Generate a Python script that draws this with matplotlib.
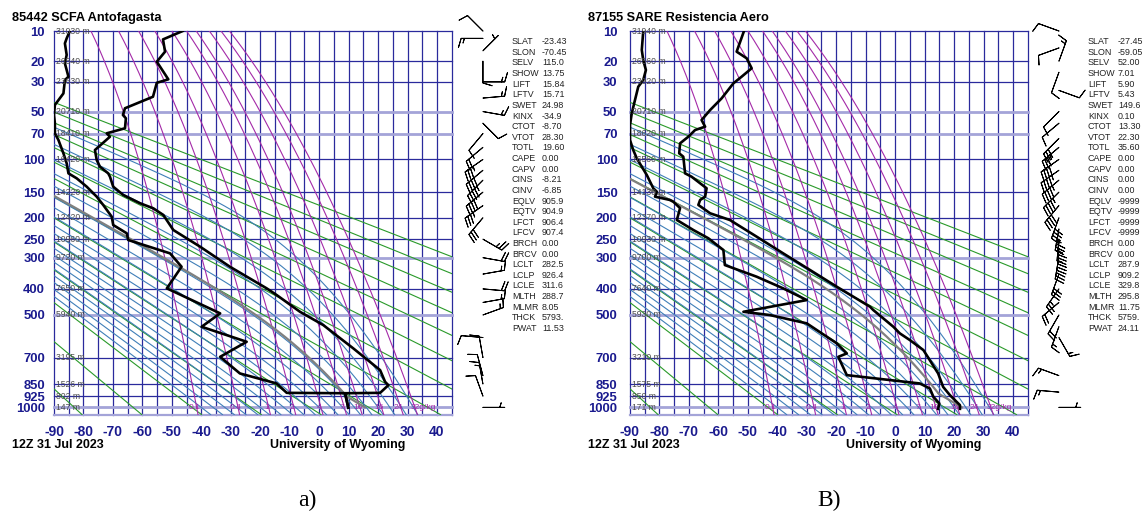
import numpy as np
import matplotlib.pyplot as plt

plt.rcParams['font.family'] = ['Liberation Sans', 'DejaVu Sans']

W, H = 1148, 518
KAPPA = 0.2857

# pressure levels drawn on the diagram
levels = [10, 20, 30, 50, 70, 100, 150, 200, 250, 300, 400, 500, 700, 850, 925, 1000]
faint_levels = [50, 70, 300, 500, 1000]
temp_ticks = list(range(-90, 41, 10))
mix_ratios = [0.1, 0.4, 1, 2, 4, 7, 10, 16, 24, 32]
mix_labels = ["0.1", "0.4", "1", "2", "4", "7", "10", "16", "24", "32g/kg"]
dry_thetas = list(range(190, 451, 20))
moist_tw = list(range(-40, 33, 4))

index_names = ["SLAT", "SLON", "SELV", "SHOW", "LIFT", "LFTV", "SWET", "KINX", "CTOT",
               "VTOT", "TOTL", "CAPE", "CAPV", "CINS", "CINV", "EQLV", "EQTV", "LFCT",
               "LFCV", "BRCH", "BRCV", "LCLT", "LCLP", "LCLE", "MLTH", "MLMR", "THCK", "PWAT"]

# ---- station a) Antofagasta
a_title = "85442 SCFA Antofagasta"
a_temp_p = [10, 12.3, 16.3, 20.2, 28.6, 30.5, 39.1, 47.4, 52.8, 55.6, 64.7, 69.7, 73.2, 88.2,
            100.8, 109.9, 119.5, 124.6, 140.6, 155, 170.4, 180.3, 194, 227.6, 269.6, 326.9,
            398.1, 422.2, 486.9, 543.1, 596.4, 652.9, 768.6, 836.9, 857, 904.6, 907, 1002]
a_temp_t = [-46.3, -53.0, -52.3, -55.1, -51.2, -55.1, -56.4, -65.9, -66.6, -65.6, -65.9, -72.1,
            -71.0, -76.1, -75.5, -74.4, -71.6, -71.0, -69.9, -66.5, -60.8, -56.3, -52.9, -49.5,
            -40.4, -30.3, -17.8, -14.4, -6.5, 1.4, 6.5, 11.6, 20.7, 22.4, 23.5, 20.7, 8.8, 9.9]
a_dwpt_p = [10, 12.0, 13.5, 17.5, 20.9, 27.2, 29.0, 36.9, 44.9, 52.8, 60.0, 69.7, 76.7, 92.2,
            105.2, 119.5, 127.1, 140.6, 158.1, 173.7, 197.7, 216, 235.5, 252.2, 287.8, 326.9,
            398.1, 493.4, 550.7, 620.3, 696.2, 787.5, 846.6, 904.6, 907, 1002]
a_dwpt_t = [-84.6, -85.7, -86.3, -85.7, -86.3, -85.1, -86.3, -86.8, -89.7, -90.0, -89.7, -89.7,
            -88.5, -86.8, -85.7, -85.1, -82.3, -78.9, -75.5, -73.3, -70.4, -69.9, -65.3, -64.8,
            -50.6, -46.7, -51.7, -33.6, -39.9, -24.6, -33.6, -26.9, -14.4, -11.0, 8.8, 9.9]
a_hght = ["31030", "26540", "23630", "20710", "18410", "16420", "14220", "12420", "10960",
          "9720", "7650", "5940", "3195", "1526", "802", "147"]
a_wind_p = [10, 12, 16, 20, 30, 40, 50, 60, 70, 85, 100, 115, 130, 150, 175, 200, 250, 300,
            350, 400, 450, 500, 600, 700, 800, 850, 925, 1000]
a_wind_dir = [315, 270, 45, 180, 90, 85, 100, 135, 220, 230, 235, 230, 225, 230, 235, 220, 120,
              100, 80, 95, 80, 70, 275, 350, 345, 350, 340, 90]
a_wind_spd = [10, 15, 5, 10, 15, 15, 15, 10, 10, 20, 35, 40, 45, 40, 35, 30, 25, 20, 15, 20,
              15, 15, 10, 10, 10, 15, 10, 5]
a_index = ["-23.43", "-70.45", "115.0", "13.75", "15.84", "15.71", "24.98", "-34.9", "-8.70",
           "28.30", "19.60", "0.00", "0.00", "-8.21", "-6.85", "905.9", "904.9", "906.4",
           "907.4", "0.00", "0.00", "282.5", "926.4", "311.6", "288.7", "8.05", "5793.", "11.53"]
a_mlth, a_lclt, a_lclp = 288.7, 282.5, 926.4

# ---- station B) Resistencia
b_title = "87155 SARE Resistencia Aero"
b_temp_p = [10, 16.3, 18.8, 23.1, 27.2, 30.8, 40.2, 48.8, 57.1, 63.2, 66.4, 73.2, 80.4, 92.2,
            96.5, 119.5, 124.6, 143.3, 158.1, 164.2, 173.7, 190.5, 204.8, 243.8, 287.8, 337,
            392.4, 466.9, 480.1, 550.7, 580.6, 612.1, 661.5, 787.5, 867.5, 919.3, 984.8, 1010]
b_temp_t = [-51.3, -53.8, -50.4, -48.7, -52.1, -54.9, -58.9, -62.8, -65.7, -64.5, -67.9, -70.2,
            -73.0, -73.3, -71.9, -71.3, -69.1, -64.0, -64.5, -66.2, -66.8, -62.8, -56.1, -47.0,
            -38.0, -28.9, -19.8, -8.5, -7.4, -0.6, 1.6, 5.0, 9.6, 14.6, 16.3, 18.6, 22.0, 22.0]
b_dwpt_p = [10, 15.7, 19.6, 23.9, 29.0, 32.8, 41.3, 51.4, 61.6, 76.7, 88.2, 98.5, 109.9, 122,
            143.3, 149.2, 158.1, 164.2, 167.4, 180, 204.8, 227.6, 247.8, 278.6, 321.8, 358.5,
            398.1, 440.9, 486.9, 500.4, 535.7, 628.1, 678.5, 696.2, 797.3, 846.6, 877.5, 930.3,
            973.4, 1010]
b_dwpt_t = [-85.5, -86.0, -85.5, -84.6, -85.5, -87.2, -88.3, -89.4, -90.0, -90.0, -88.9, -87.7,
            -86.0, -84.3, -82.1, -80.9, -81.5, -76.4, -75.3, -73.0, -74.1, -68.5, -63.4, -58.3,
            -57.8, -47.0, -38.0, -30.0, -51.5, -42.5, -30.0, -19.8, -16.4, -19.3, -16.4, 8.4,
            11.8, 13.0, 15.0, 14.6]
b_hght = ["31940", "26560", "23920", "20710", "18620", "16560", "14130", "12370", "10930",
          "9700", "7640", "5930", "3210", "1575", "850", "171"]
b_wind_p = [10, 15, 20, 25, 35, 50, 60, 75, 85, 100, 115, 130, 150, 175, 200, 225, 250, 275,
            300, 350, 400, 450, 500, 550, 600, 800, 900, 1000]
b_wind_dir = [290, 250, 20, 200, 110, 225, 230, 225, 230, 235, 235, 230, 225, 220, 200, 190,
              185, 185, 190, 200, 215, 230, 210, 200, 150, 290, 275, 90]
b_wind_spd = [10, 10, 15, 10, 10, 10, 10, 30, 35, 40, 45, 45, 45, 40, 40, 35, 35, 35, 30, 30,
              25, 20, 20, 15, 15, 15, 15, 5]
b_index = ["-27.45", "-59.05", "52.00", "7.01", "5.90", "5.43", "149.6", "0.10", "13.30",
           "22.30", "35.60", "0.00", "0.00", "0.00", "0.00", "-9999", "-9999", "-9999",
           "-9999", "0.00", "0.00", "287.9", "909.2", "329.8", "295.8", "11.75", "5759.", "24.11"]
b_mlth, b_lclt, b_lclp = 295.8, 287.9, 909.2

NAVY = '#2a2a9c'
LABEL_BLUE = '#1a1a8e'
FAINT = '#a4a4d8'
GREEN = '#2a9a2a'
BLUE = '#3f7fb8'
PURPLE = '#a42aa8'


def pk(p):
    p = np.asarray(p, dtype=float)
    return np.sign(p) * np.abs(p) ** KAPPA


def pk_inv(y):
    y = np.asarray(y, dtype=float)
    return np.sign(y) * np.abs(y) ** (1 / KAPPA)


def sat_vp(tc):
    return 6.112 * np.exp(17.67 * tc / (tc + 243.5))


def moist_slope(tk, p):
    e = sat_vp(tk - 273.15)
    rs = 0.622 * e / (p - e)
    num = 287.04 * tk + 2.501e6 * rs
    den = 1005.7 + 2.501e6 ** 2 * rs * 0.622 / (287.04 * tk ** 2)
    return num / den / p


def moist_adiabat(t0, p0, pres):
    t = np.asarray(t0, dtype=float) + 273.15
    p = p0
    out = []
    for pn in pres:
        h = pn - p
        k1 = moist_slope(t, p)
        k2 = moist_slope(t + 0.5 * h * k1, p + 0.5 * h)
        k3 = moist_slope(t + 0.5 * h * k2, p + 0.5 * h)
        k4 = moist_slope(t + h * k3, pn)
        t = t + h * (k1 + 2 * k2 + 2 * k3 + k4) / 6
        p = pn
        out.append(t - 273.15)
    return np.array(out)


def draw_station(fig, x0, title, temp_p, temp_t, dwpt_p, dwpt_t, hght, wind_p, wind_dir,
                 wind_spd, index_vals, mlth, lclt, lclp, ypad):
    ax = fig.add_axes([x0 / W, 1 - 414.6 / H, 397.7 / W, 383.6 / H])
    ax.set_yscale('function', functions=(pk, pk_inv))
    ax.set_xlim(-90, 45)
    ax.set_ylim(1050, 10)
    for s in ax.spines.values():
        s.set_visible(False)

    # grid
    for t in np.arange(-90, 46, 5):
        ax.axvline(t, color=NAVY, lw=0.9, zorder=1, clip_on=False)
    for p in levels:
        if p in faint_levels:
            ax.axhline(p, color=FAINT, lw=2.0, zorder=1, clip_on=False)
        else:
            ax.axhline(p, color=NAVY, lw=0.9, zorder=1, clip_on=False)
    ax.axhline(1050, color=FAINT, lw=1.6, zorder=1, clip_on=False)

    pres = np.geomspace(10, 1050, 400)
    # dry adiabats
    for th in dry_thetas:
        ax.plot(th * (pres / 1000) ** KAPPA - 273.15, pres, color=GREEN, lw=0.8, zorder=2)
    # moist adiabats
    up = np.geomspace(1000, 10, 300)
    down = np.linspace(1000, 1050, 11)
    t_up = moist_adiabat(moist_tw, 1000, up)
    t_down = moist_adiabat(moist_tw, 1000, down)
    p_all = np.concatenate([down[::-1], up[1:]])
    t_all = np.concatenate([t_down[::-1], t_up[1:]])
    ax.plot(t_all, p_all, color=BLUE, lw=0.8, zorder=2)
    # mixing ratio lines
    for w, lab in zip(mix_ratios, mix_labels):
        e = w / 1000 * pres / (0.622 + w / 1000)
        le = np.log(e / 6.112)
        ax.plot(243.5 * le / (17.67 - le), pres, color=PURPLE, lw=0.8, zorder=2)
        e0 = w / 1000 * 1000 / (0.622 + w / 1000)
        l0 = np.log(e0 / 6.112)
        tx = 243.5 * l0 / (17.67 - l0)
        if lab.endswith('kg'):
            ax.text(tx - 1.5, 1000, lab, color=PURPLE, fontsize=6, ha='left', va='center', zorder=3)
        else:
            ax.text(tx - 0.7, 1000, lab, color=PURPLE, fontsize=6, ha='center', va='center', zorder=3)

    # parcel path
    p_dry = np.linspace(1000, lclp, 20)
    t_dry = mlth * (p_dry / 1000) ** KAPPA - 273.15
    p_moist = np.geomspace(lclp, 10, 300)
    t_moist = moist_adiabat(lclt - 273.15, lclp, p_moist)
    ax.plot(np.concatenate([t_dry, t_moist]), np.concatenate([p_dry, p_moist]),
            color='#808080', lw=1.6, zorder=4)

    # sounding
    ax.plot(temp_t, temp_p, color='black', lw=1.9, zorder=5)
    ax.plot(dwpt_t, dwpt_p, color='black', lw=1.9, zorder=5)

    # heights
    for p, h in zip(levels, hght):
        ax.text(-89.3, p, f"{h} m", fontsize=6.2, color='#4d4d4d', ha='left', va='center', zorder=6)

    # wind barbs
    d = np.radians(wind_dir)
    spd = np.asarray(wind_spd, dtype=float)
    ax.barbs(np.full(len(wind_p), 55.6), wind_p, -spd * np.sin(d), -spd * np.cos(d),
             length=5.6, lw=0.7, color='black', flip_barb=True, clip_on=False, zorder=6,
             sizes=dict(spacing=0.15, height=0.42, emptybarb=0.2))

    ax.set_xticks(temp_ticks)
    ax.set_xticklabels([str(t) for t in temp_ticks], fontweight='bold')
    ax.set_yticks(levels)
    ax.set_yticklabels([str(p) for p in levels], fontweight='bold')
    ax.yaxis.set_minor_locator(plt.NullLocator())
    ax.tick_params(axis='x', length=0, pad=7.5, labelsize=10, labelcolor=LABEL_BLUE)
    ax.tick_params(axis='y', length=0, pad=ypad, labelsize=9.4, labelcolor=LABEL_BLUE)

    fig.text((x0 - 42.3) / W, 1 - 18 / H, title, fontsize=9.2, fontweight='bold', va='center')
    fig.text((x0 - 42.3) / W, 1 - 445 / H, "12Z 31 Jul 2023", fontsize=9, fontweight='bold',
             va='center')
    fig.text((x0 + 216) / W, 1 - 445 / H, "University of Wyoming", fontsize=9,
             fontweight='bold', va='center')

    for i, (name, val) in enumerate(zip(index_names, index_vals)):
        y = 1 - (41.7 + i * 10.62) / H
        fig.text((x0 + 458) / W, y, name, fontsize=6.4, color='#222222', va='center')
        fig.text((x0 + 488) / W, y, val, fontsize=6.4, color='#222222', va='center')
    return ax


fig = plt.figure(figsize=(W / 100, H / 100), dpi=100)
draw_station(fig, 54, a_title, a_temp_p, a_temp_t, a_dwpt_p, a_dwpt_t, a_hght, a_wind_p,
             a_wind_dir, a_wind_spd, a_index, a_mlth, a_lclt, a_lclp, 6.5)
draw_station(fig, 630, b_title, b_temp_p, b_temp_t, b_dwpt_p, b_dwpt_t, b_hght, b_wind_p,
             b_wind_dir, b_wind_spd, b_index, b_mlth, b_lclt, b_lclp, 9.0)

fig.text(307 / W, 1 - 500 / H, "a)", fontsize=17, family='Liberation Serif', ha='center',
         va='center')
fig.text(829 / W, 1 - 500 / H, "B)", fontsize=17, family='Liberation Serif', ha='center',
         va='center')

fig.savefig('out.png', dpi=100)
